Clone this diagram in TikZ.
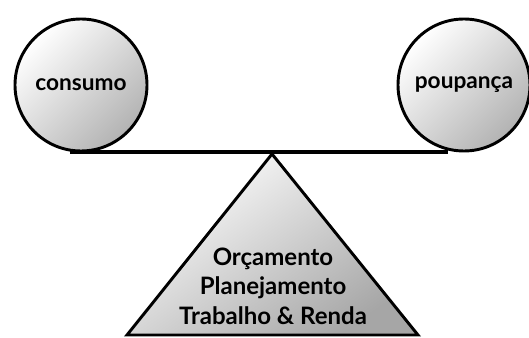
\documentclass[tikz,border=0pt]{standalone}
\usepackage{fontspec}
\setmainfont{Lato}
\usetikzlibrary{positioning}
\tikzset{
  ball/.style={circle, draw, line width=2.2pt, minimum size=99pt, inner sep=0pt,
    top color=white, bottom color=black!30, shading angle=45, font=\bfseries\fontsize{17}{20}\selectfont},
  beam/.style={line width=3pt},
  basis/.style={line width=2.2pt, line join=miter, top color=white, bottom color=black!35, shading angle=35}
}
\begin{document}
\begin{tikzpicture}[x=0.75pt,y=0.75pt,yscale=-1,xscale=1]
\useasboundingbox (0,0) rectangle (529,338);

%Triangle (fulcrum)
\draw [basis] (272,154) -- (418,335) -- (127,335) -- cycle;
% Text Node
\node (base) [align=center, font=\bfseries\fontsize{18}{22}\selectfont] at (273,286) {Orçamento\\Planejamento\\Trabalho \& Renda};

%Beam
\coordinate (bl) at (70,152);
\coordinate (br) at (448,152);
\draw [beam] (bl) -- (br);

%Circles
\node (consumo) [ball] at (81,85) {consumo};
\node (poupanca) [ball] at (464,85) {poupança};
\end{tikzpicture}
\end{document}
